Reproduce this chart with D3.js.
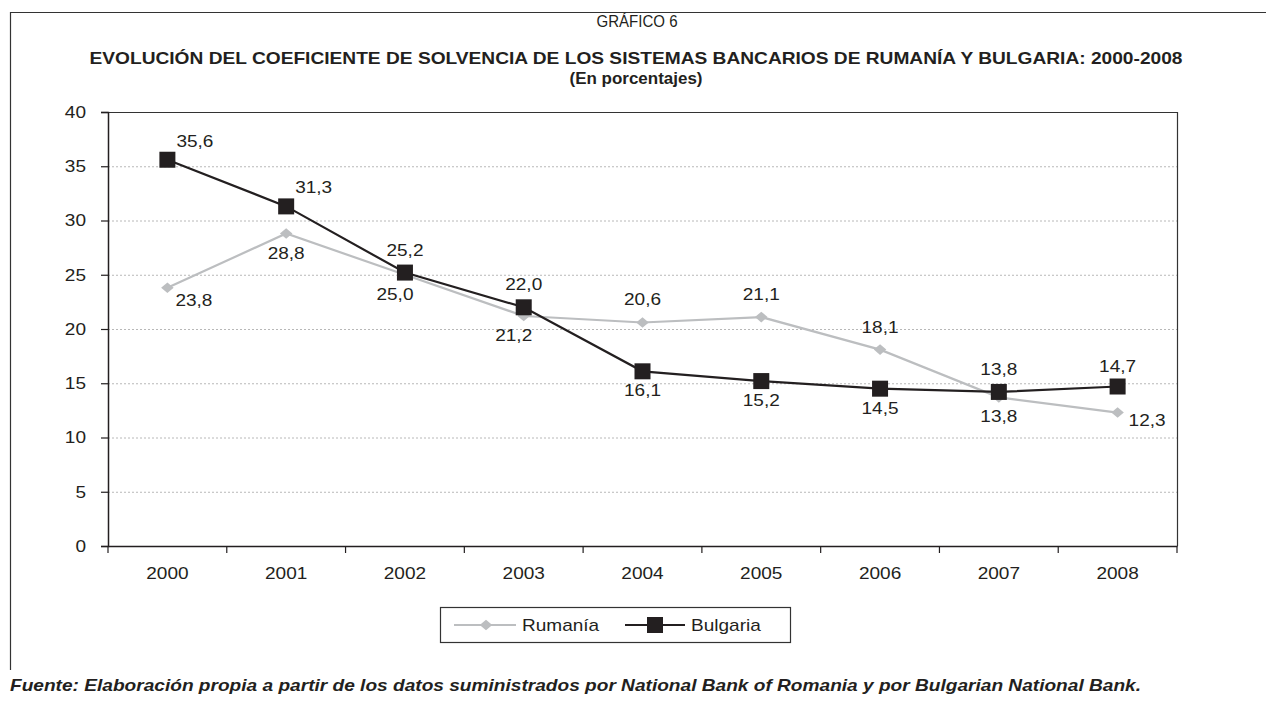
<!DOCTYPE html>
<html>
<head>
<meta charset="utf-8">
<script src="https://cdn.jsdelivr.net/npm/d3@7"></script>
<style>
  body { margin: 0; background: #fff; }
  text { font-family: "Liberation Sans", Arial, sans-serif; fill: #231f20; }
</style>
</head>
<body>
<div id="chart"></div>
<script>
// data
var years = ["2000", "2001", "2002", "2003", "2004", "2005", "2006", "2007", "2008"];
var rumania = [23.8, 28.8, 25.0, 21.2, 20.6, 21.1, 18.1, 13.7, 12.3];
var bulgaria = [35.6, 31.3, 25.2, 22.0, 16.1, 15.2, 14.5, 14.2, 14.7];
var rumaniaLabels = ["23,8", "28,8", "25,0", "21,2", "20,6", "21,1", "18,1", "13,8", "12,3"];
var bulgariaLabels = ["35,6", "31,3", "25,2", "22,0", "16,1", "15,2", "14,5", "13,8", "14,7"];
var yTicks = [0, 5, 10, 15, 20, 25, 30, 35, 40];

// where each value label sits relative to its marker
var rumaniaPlace = ["rb", "b", "bl", "bl", "t", "t", "t", "b", "rb2"];
var bulgariaPlace = ["rt", "rt", "t", "t", "b", "b", "b", "t", "t2"];

var width = 1266, height = 704;
var margin = {left: 108, right: 1177, top: 112, bottom: 546};
var fs = 17;       // label font size
var sx = 1.12;     // the source type is a bit wider than Arial

var svg = d3.select("#chart").append("svg")
  .attr("width", width)
  .attr("height", height);

// outer frame (top + left)
svg.append("path")
  .attr("d", "M10.5,670 V12.5 H1266")
  .attr("fill", "none")
  .attr("stroke", "#333")
  .attr("stroke-width", 1.2);

// titles
svg.append("text")
  .attr("x", 637).attr("y", 27)
  .attr("text-anchor", "middle")
  .attr("font-size", 16)
  .attr("textLength", 81).attr("lengthAdjust", "spacingAndGlyphs")
  .text("GRÁFICO 6");

svg.append("text")
  .attr("x", 636).attr("y", 64)
  .attr("text-anchor", "middle")
  .attr("font-size", 16.5)
  .attr("font-weight", "bold")
  .attr("textLength", 1093).attr("lengthAdjust", "spacingAndGlyphs")
  .text("EVOLUCIÓN DEL COEFICIENTE DE SOLVENCIA DE LOS SISTEMAS BANCARIOS DE RUMANÍA Y BULGARIA: 2000-2008");

svg.append("text")
  .attr("x", 636).attr("y", 84)
  .attr("text-anchor", "middle")
  .attr("font-size", 16.5)
  .attr("font-weight", "bold")
  .attr("textLength", 133).attr("lengthAdjust", "spacingAndGlyphs")
  .text("(En porcentajes)");

var x = d3.scaleBand()
  .domain(years)
  .range([margin.left, margin.right]);

var y = d3.scaleLinear()
  .domain([0, 40])
  .range([margin.bottom, margin.top]);

var cx = function(i) { return x(years[i]) + x.bandwidth() / 2; };

// dotted grid
svg.append("g")
  .selectAll("line")
  .data(yTicks.filter(d => d > 0 && d < 40))
  .enter().append("line")
  .attr("x1", margin.left).attr("x2", margin.right)
  .attr("y1", d => y(d) + 0.5).attr("y2", d => y(d) + 0.5)
  .attr("stroke", "#b8b8b8")
  .attr("stroke-width", 1)
  .attr("stroke-dasharray", "2,2");

// plot frame top + right
svg.append("path")
  .attr("d", "M" + margin.left + "," + (margin.top + 0.5) + " H" + (margin.right + 0.5) + " V" + margin.bottom)
  .attr("fill", "none")
  .attr("stroke", "#333")
  .attr("stroke-width", 1.2);

// y axis
var yAxis = svg.append("g")
  .attr("transform", "translate(" + margin.left + ",0)")
  .call(d3.axisLeft(y).tickValues(yTicks).tickSize(7).tickPadding(15).tickFormat(d3.format("d")));
yAxis.selectAll("text")
  .attr("font-size", fs)
  .attr("x", -22 / sx)
  .attr("transform", "scale(" + sx + ",1)")
  .style("font-family", "Liberation Sans, Arial, sans-serif")
  .attr("fill", "#231f20");
yAxis.select(".domain").attr("stroke", "#231f20").attr("stroke-width", 1.5);
yAxis.selectAll(".tick line").attr("stroke", "#231f20").attr("stroke-width", 1.2);

// x axis: ticks on category boundaries
var xAxis = svg.append("g")
  .attr("transform", "translate(0," + margin.bottom + ")")
  .call(d3.axisBottom(x).tickSize(0).tickPadding(21));
xAxis.selectAll("text")
  .attr("font-size", fs)
  .attr("transform", "scale(" + sx + ",1)")
  .style("font-family", "Liberation Sans, Arial, sans-serif")
  .attr("fill", "#231f20");
xAxis.select(".domain").attr("stroke", "#231f20").attr("stroke-width", 1.5);
xAxis.selectAll("line.bound")
  .data(d3.range(years.length + 1))
  .enter().append("line")
  .attr("class", "bound")
  .attr("x1", i => margin.left + i * x.bandwidth())
  .attr("x2", i => margin.left + i * x.bandwidth())
  .attr("y1", 0).attr("y2", 7)
  .attr("stroke", "#231f20")
  .attr("stroke-width", 1.2);

var line = d3.line()
  .x((d, i) => cx(i))
  .y(d => y(d));

// Rumanía
svg.append("path")
  .datum(rumania)
  .attr("d", line)
  .attr("fill", "none")
  .attr("stroke", "#bcbec0")
  .attr("stroke-width", 2.2);

var diamond = d3.symbol().type(d3.symbolDiamond2).size(100);

svg.append("g")
  .selectAll("path")
  .data(rumania)
  .enter().append("path")
  .attr("d", diamond)
  .attr("transform", (d, i) => "translate(" + cx(i) + "," + y(d) + ") scale(1,0.85)")
  .attr("fill", "#bcbec0");

// Bulgaria
svg.append("path")
  .datum(bulgaria)
  .attr("d", line)
  .attr("fill", "none")
  .attr("stroke", "#231f20")
  .attr("stroke-width", 2.2);

svg.append("g")
  .selectAll("rect")
  .data(bulgaria)
  .enter().append("rect")
  .attr("x", (d, i) => cx(i) - 8)
  .attr("y", d => y(d) - 8)
  .attr("width", 16).attr("height", 16)
  .attr("fill", "#231f20");

// value labels
function place(p) {
  if (p == "t") return {dx: 0, dy: -17, anchor: "middle"};
  if (p == "t2") return {dx: 0, dy: -15, anchor: "middle"};
  if (p == "b") return {dx: 0, dy: 25, anchor: "middle"};
  if (p == "bl") return {dx: -10, dy: 25, anchor: "middle"};
  if (p == "rt") return {dx: 9, dy: -13, anchor: "start"};
  if (p == "rb") return {dx: 8, dy: 18, anchor: "start"};
  if (p == "rb2") return {dx: 11, dy: 13, anchor: "start"};
}

function labels(values, texts, where) {
  svg.append("g")
    .selectAll("text")
    .data(values)
    .enter().append("text")
    .attr("transform", (d, i) => "translate(" + (cx(i) + place(where[i]).dx) + "," + (y(d) + place(where[i]).dy) + ") scale(" + sx + ",1)")
    .attr("text-anchor", (d, i) => place(where[i]).anchor)
    .attr("font-size", fs)
    .text((d, i) => texts[i]);
}
labels(rumania, rumaniaLabels, rumaniaPlace);
labels(bulgaria, bulgariaLabels, bulgariaPlace);

// legend
var lg = svg.append("g");
lg.append("rect")
  .attr("x", 440.5).attr("y", 607.5)
  .attr("width", 350).attr("height", 35)
  .attr("fill", "#fff")
  .attr("stroke", "#333")
  .attr("stroke-width", 1.2);

lg.append("line")
  .attr("x1", 454).attr("x2", 516).attr("y1", 625).attr("y2", 625)
  .attr("stroke", "#bcbec0").attr("stroke-width", 2.2);
lg.append("path")
  .attr("d", diamond)
  .attr("transform", "translate(486,625) scale(1,0.85)")
  .attr("fill", "#bcbec0");
lg.append("text")
  .attr("transform", "translate(522,631) scale(" + sx + ",1)")
  .attr("font-size", fs)
  .text("Rumanía");

lg.append("line")
  .attr("x1", 625).attr("x2", 685).attr("y1", 625).attr("y2", 625)
  .attr("stroke", "#231f20").attr("stroke-width", 2.2);
lg.append("rect")
  .attr("x", 647).attr("y", 617)
  .attr("width", 16).attr("height", 16)
  .attr("fill", "#231f20");
lg.append("text")
  .attr("transform", "translate(691,631) scale(" + sx + ",1)")
  .attr("font-size", fs)
  .text("Bulgaria");

// source
svg.append("text")
  .attr("x", 10).attr("y", 691)
  .attr("font-size", 16.5)
  .attr("font-weight", "bold")
  .attr("font-style", "italic")
  .attr("textLength", 1131).attr("lengthAdjust", "spacingAndGlyphs")
  .text("Fuente: Elaboración propia a partir de los datos suministrados por National Bank of Romania y por Bulgarian National Bank.");
</script>
</body>
</html>
